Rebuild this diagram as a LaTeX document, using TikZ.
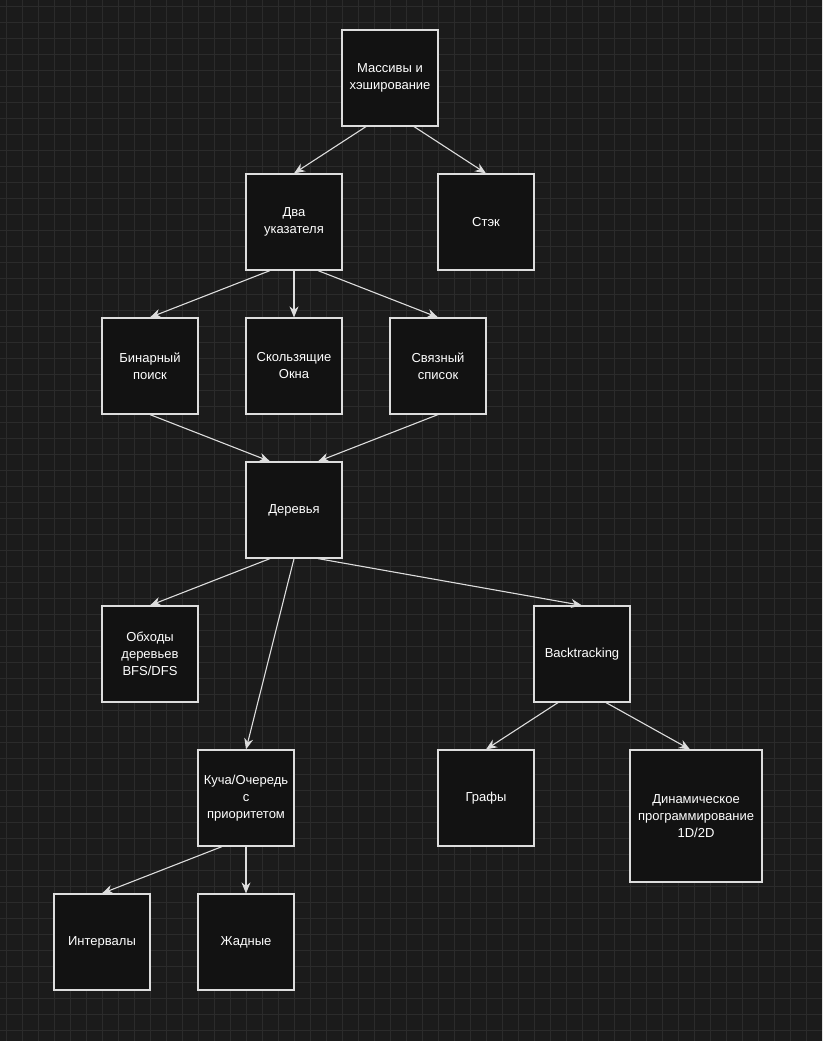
\documentclass[tikz,border=0pt]{standalone}
\usepackage{fontspec}
\setmainfont{Liberation Sans}
\usetikzlibrary{calc,arrows.meta}
\definecolor{bg}{HTML}{1B1B1B}
\definecolor{gridc}{HTML}{2B2B2B}
\definecolor{boxf}{HTML}{121212}
\definecolor{edge}{HTML}{DDDDDD}
\begin{document}
\begin{tikzpicture}[x=1pt,y=-1pt,
  box/.style={draw=edge,line width=1.2pt,fill=boxf,text=white,align=center,
    minimum width=96pt,minimum height=96pt,inner sep=2pt,font=\fontsize{13}{17}\selectfont},
  arr/.style={draw=edge,line width=1.1pt,-{Stealth[length=11pt,width=9pt]}}]
\useasboundingbox (0,0) rectangle (822,1041);
\fill[bg] (0,0) rectangle (822,1041);
\begin{scope}
\clip (0,0) rectangle (822,1041);
\foreach \k in {0,...,51} {
  \draw[gridc,line width=0.6pt] (6+16*\k,0) -- (6+16*\k,1041);
}
\foreach \k in {0,...,64} {
  \draw[gridc,line width=0.6pt] (0,6+16*\k) -- (822,6+16*\k);
}
\end{scope}
\node[box] (m) at (390,78) {Массивы и\\хэширование};
\node[box] (d) at (294,222) {Два\\указателя};
\node[box] (s) at (486,222) {Стэк};
\node[box] (b) at (150,366) {Бинарный\\поиск};
\node[box] (o) at (294,366) {Скользящие\\Окна};
\node[box] (l) at (438,366) {Связный\\список};
\node[box] (t) at (294,510) {Деревья};
\node[box] (w) at (150,654) {Обходы\\деревьев\\BFS/DFS};
\node[box] (bt) at (582,654) {Backtracking};
\node[box] (h) at (246,798) {Куча/Очередь\\с\\приоритетом};
\node[box] (g) at (486,798) {Графы};
\node[box,minimum width=132pt,minimum height=132pt] (dp) at (696,816) {Динамическое\\программирование\\1D/2D};
\node[box] (i) at (102,942) {Интервалы};
\node[box] (z) at (246,942) {Жадные};
\draw[arr] ($(m.south)+(-24,0)$) -- (d.north);
\draw[arr] ($(m.south)+(24,0)$) -- (s.north);
\draw[arr] ($(d.south)+(-24,0)$) -- (b.north);
\draw[arr] (d.south) -- (o.north);
\draw[arr] ($(d.south)+(24,0)$) -- (l.north);
\draw[arr] (b.south) -- ($(t.north)+(-24,0)$);
\draw[arr] (l.south) -- ($(t.north)+(24,0)$);
\draw[arr] ($(t.south)+(-24,0)$) -- (w.north);
\draw[arr] (t.south) -- (h.north);
\draw[arr] ($(t.south)+(24,0)$) -- (bt.north);
\draw[arr] ($(bt.south)+(-24,0)$) -- (g.north);
\draw[arr] ($(bt.south)+(24,0)$) -- ($(dp.north)+(-6,0)$);
\draw[arr] ($(h.south)+(-24,0)$) -- (i.north);
\draw[arr] (h.south) -- (z.north);
\end{tikzpicture}
\end{document}
